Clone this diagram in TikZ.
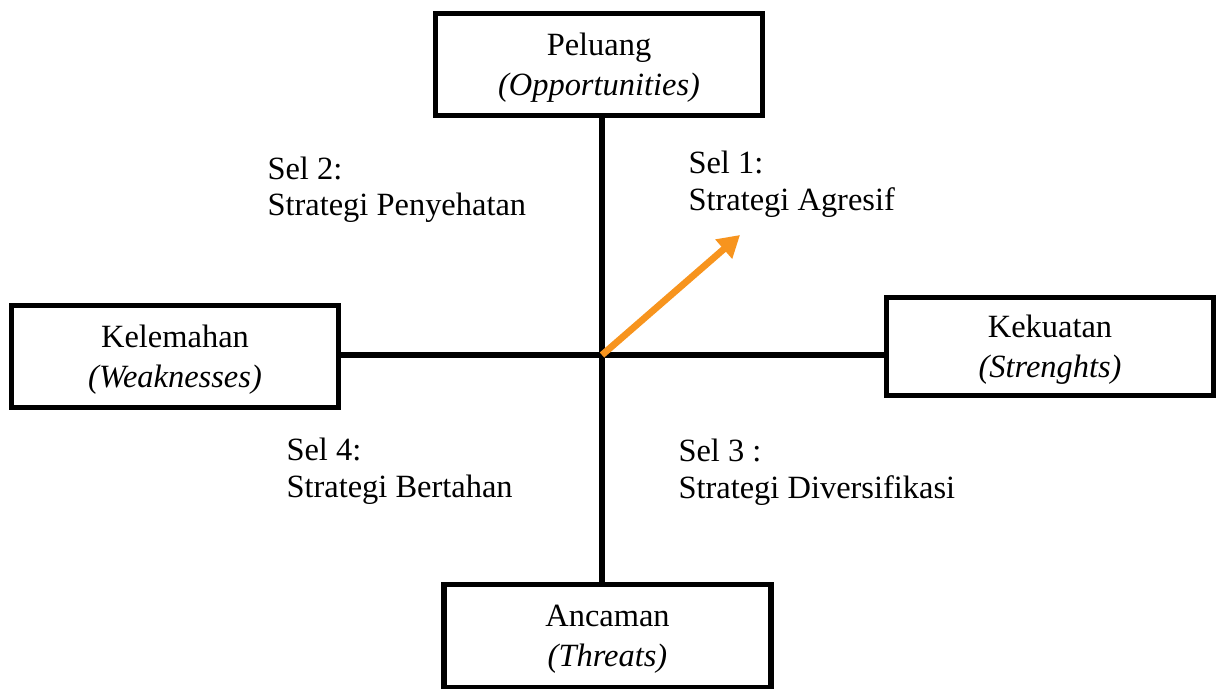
\documentclass[tikz,border=0pt]{standalone}
\usepackage{fontspec}
\setmainfont{Liberation Serif}
\usetikzlibrary{arrows.meta}

\definecolor{sworange}{RGB}{247,148,30}

\begin{document}
\begin{tikzpicture}[
    x = 0.013cm, y = -0.013cm,
    factor/.style = {shape = rectangle, draw = black, line width = 1.9pt, align = center, minimum width = 4.25cm, minimum height = 1.33cm, inner sep = 0.1cm, text height = 26pt, text depth = 3.4pt, font = \fontsize{12}{14.8}\selectfont},
    sel/.style = {align = left, anchor = base west, inner sep = 0pt, font = \fontsize{12}{13.6}\selectfont},
    axis/.style = {line width = 2pt, draw = black},
    move/.style = {line width = 2.5pt, draw = sworange, -{Triangle[length = 8pt, width = 9pt]}},
    ]
    \useasboundingbox (0, 0) rectangle (1222, 688);

    \node[factor] (Op) at (599, 64.5) {Peluang\\\textit{(Opportunities)}};
    \node[factor] (We) at (175, 356.5) {Kelemahan\\\textit{(Weaknesses)}};
    \node[factor, minimum height = 1.27cm] (St) at (1050, 346.5) {Kekuatan\\\textit{(Strenghts)}};
    \node[factor] (Th) at (607.5, 636) {Ancaman\\\textit{(Threats)}};

    \coordinate (O) at (602, 355);
    \coordinate (Go) at (740, 235);

    \path[axis] (O |- Op.south) -- (O |- Th.north);
    \path[axis] (O -| We.east) -- (O -| St.west);
    \path[move] (O) -- (Go);

    \node[sel] (S1) at (688, 210.5) {Sel 1:\\Strategi Agresif};
    \node[sel] (S2) at (267, 216) {Sel 2:\\Strategi Penyehatan};
    \node[sel] (S3) at (678, 498) {Sel 3 :\\Strategi Diversifikasi};
    \node[sel] (S4) at (286, 497) {Sel 4:\\Strategi Bertahan};
\end{tikzpicture}
\end{document}
